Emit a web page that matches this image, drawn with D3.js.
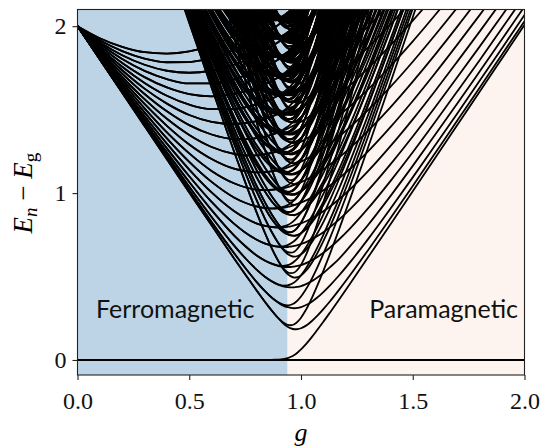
<!DOCTYPE html>
<html><head><meta charset="utf-8">
<script src="https://cdn.jsdelivr.net/npm/d3@7"></script>
<style>body{margin:0;background:#fff}svg{display:block}</style>
</head><body>
<svg id="chart" width="550" height="447"></svg>
<script>
// Transverse-field coupling values at which the single-particle levels are tabulated
const couplings = [0, 0.1, 0.2, 0.3, 0.4, 0.5, 0.6, 0.7, 0.75, 0.8, 0.84, 0.87, 0.9, 0.92, 0.94, 0.955, 0.97, 0.985, 1.0, 1.015, 1.03, 1.05, 1.07, 1.1, 1.13, 1.17, 1.22, 1.3, 1.4, 1.5, 1.6, 1.7, 1.8, 1.9, 2.0];

// Single-particle excitation energies, one array per mode (edge mode first)
const mode0 = [0.000, 0.000, 0.000, 0.000, 0.000, 0.000, 0.000, 0.000, 0.000, 0.000, 0.000, 0.001, 0.002, 0.005, 0.011, 0.019, 0.030, 0.045, 0.063, 0.084, 0.107, 0.140, 0.175, 0.229, 0.285, 0.361, 0.458, 0.615, 0.812, 1.011, 1.210, 1.409, 1.608, 1.808, 2.008];
const mode1 = [2.000, 1.800, 1.601, 1.402, 1.203, 1.004, 0.807, 0.610, 0.514, 0.419, 0.346, 0.294, 0.247, 0.220, 0.199, 0.189, 0.184, 0.185, 0.190, 0.200, 0.213, 0.235, 0.261, 0.305, 0.352, 0.420, 0.509, 0.658, 0.849, 1.043, 1.239, 1.436, 1.633, 1.832, 2.030];
const mode2 = [2.000, 1.802, 1.604, 1.407, 1.211, 1.017, 0.826, 0.641, 0.553, 0.470, 0.411, 0.372, 0.342, 0.326, 0.316, 0.312, 0.310, 0.312, 0.317, 0.325, 0.334, 0.351, 0.371, 0.407, 0.447, 0.506, 0.586, 0.724, 0.906, 1.094, 1.286, 1.479, 1.674, 1.870, 2.067];
const mode3 = [2.000, 1.804, 1.609, 1.416, 1.225, 1.038, 0.857, 0.687, 0.611, 0.543, 0.497, 0.470, 0.450, 0.441, 0.436, 0.435, 0.435, 0.438, 0.443, 0.450, 0.459, 0.474, 0.491, 0.521, 0.556, 0.606, 0.682, 0.809, 0.982, 1.163, 1.349, 1.538, 1.730, 1.923, 2.118];
const mode4 = [2.000, 1.807, 1.616, 1.428, 1.244, 1.066, 0.898, 0.747, 0.683, 0.628, 0.595, 0.576, 0.563, 0.558, 0.557, 0.557, 0.560, 0.564, 0.569, 0.576, 0.585, 0.599, 0.614, 0.642, 0.674, 0.722, 0.789, 0.908, 1.072, 1.245, 1.426, 1.611, 1.798, 1.989, 2.181];
const mode5 = [2.000, 1.811, 1.626, 1.444, 1.268, 1.101, 0.947, 0.817, 0.764, 0.722, 0.697, 0.685, 0.678, 0.676, 0.677, 0.680, 0.683, 0.688, 0.695, 0.702, 0.711, 0.724, 0.740, 0.766, 0.796, 0.841, 0.904, 1.016, 1.172, 1.339, 1.514, 1.695, 1.879, 2.066, 2.255];
const mode6 = [2.000, 1.816, 1.636, 1.462, 1.296, 1.141, 1.004, 0.893, 0.851, 0.819, 0.803, 0.796, 0.793, 0.795, 0.798, 0.801, 0.806, 0.812, 0.819, 0.827, 0.836, 0.850, 0.865, 0.891, 0.920, 0.963, 1.023, 1.131, 1.281, 1.442, 1.612, 1.789, 1.969, 2.153, 2.339];
const mode7 = [2.000, 1.822, 1.649, 1.484, 1.328, 1.187, 1.067, 0.974, 0.942, 0.920, 0.910, 0.907, 0.909, 0.912, 0.917, 0.922, 0.928, 0.935, 0.943, 0.952, 0.961, 0.975, 0.991, 1.017, 1.045, 1.088, 1.146, 1.250, 1.395, 1.552, 1.718, 1.891, 2.068, 2.249, 2.433];
const mode8 = [2.000, 1.828, 1.664, 1.508, 1.364, 1.238, 1.133, 1.059, 1.035, 1.021, 1.018, 1.019, 1.024, 1.029, 1.036, 1.042, 1.049, 1.057, 1.066, 1.075, 1.086, 1.100, 1.116, 1.142, 1.171, 1.213, 1.271, 1.373, 1.514, 1.668, 1.830, 1.999, 2.174, 2.352, 2.532];
const mode9 = [2.000, 1.836, 1.680, 1.534, 1.403, 1.291, 1.204, 1.146, 1.131, 1.124, 1.125, 1.130, 1.138, 1.145, 1.154, 1.161, 1.169, 1.178, 1.188, 1.198, 1.209, 1.224, 1.241, 1.268, 1.297, 1.339, 1.396, 1.497, 1.636, 1.787, 1.947, 2.113, 2.285, 2.461, 2.640];
const mode10 = [2.000, 1.844, 1.697, 1.563, 1.445, 1.348, 1.276, 1.235, 1.226, 1.226, 1.233, 1.241, 1.252, 1.261, 1.271, 1.279, 1.288, 1.298, 1.308, 1.319, 1.331, 1.347, 1.364, 1.392, 1.422, 1.464, 1.522, 1.622, 1.760, 1.909, 2.067, 2.231, 2.401, 2.575, 2.752];
const mode11 = [2.000, 1.852, 1.716, 1.594, 1.490, 1.407, 1.351, 1.324, 1.323, 1.329, 1.339, 1.350, 1.364, 1.375, 1.386, 1.396, 1.406, 1.416, 1.428, 1.439, 1.452, 1.469, 1.487, 1.515, 1.546, 1.589, 1.647, 1.748, 1.885, 2.033, 2.189, 2.352, 2.520, 2.693, 2.869];
const mode12 = [2.000, 1.862, 1.736, 1.626, 1.536, 1.468, 1.427, 1.414, 1.419, 1.431, 1.445, 1.459, 1.475, 1.487, 1.500, 1.511, 1.522, 1.533, 1.545, 1.558, 1.571, 1.589, 1.608, 1.637, 1.669, 1.713, 1.772, 1.873, 2.011, 2.158, 2.314, 2.475, 2.642, 2.814, 2.988];
const mode13 = [2.000, 1.872, 1.757, 1.660, 1.583, 1.530, 1.503, 1.504, 1.514, 1.531, 1.550, 1.566, 1.585, 1.599, 1.613, 1.625, 1.636, 1.649, 1.662, 1.675, 1.689, 1.708, 1.727, 1.758, 1.791, 1.836, 1.896, 1.998, 2.137, 2.284, 2.439, 2.600, 2.766, 2.937, 3.110];
const mode14 = [2.000, 1.882, 1.780, 1.695, 1.633, 1.593, 1.580, 1.593, 1.609, 1.631, 1.653, 1.672, 1.693, 1.708, 1.724, 1.737, 1.749, 1.763, 1.776, 1.790, 1.805, 1.825, 1.845, 1.877, 1.911, 1.957, 2.018, 2.122, 2.262, 2.410, 2.565, 2.726, 2.891, 3.061, 3.234];
const mode15 = [2.000, 1.893, 1.803, 1.732, 1.683, 1.657, 1.657, 1.682, 1.703, 1.730, 1.756, 1.777, 1.800, 1.816, 1.833, 1.847, 1.861, 1.875, 1.889, 1.904, 1.919, 1.940, 1.961, 1.995, 2.029, 2.077, 2.139, 2.245, 2.386, 2.535, 2.690, 2.851, 3.017, 3.186, 3.359];
const mode16 = [2.000, 1.904, 1.826, 1.769, 1.733, 1.721, 1.734, 1.769, 1.796, 1.827, 1.856, 1.880, 1.905, 1.923, 1.941, 1.955, 1.970, 1.985, 2.000, 2.016, 2.032, 2.053, 2.076, 2.110, 2.146, 2.195, 2.259, 2.366, 2.509, 2.659, 2.815, 2.977, 3.142, 3.312, 3.485];
const mode17 = [2.000, 1.916, 1.851, 1.806, 1.784, 1.785, 1.810, 1.856, 1.887, 1.923, 1.955, 1.981, 2.008, 2.027, 2.047, 2.062, 2.077, 2.093, 2.109, 2.125, 2.142, 2.165, 2.188, 2.224, 2.260, 2.311, 2.376, 2.486, 2.630, 2.782, 2.939, 3.101, 3.268, 3.438, 3.611];
const mode18 = [2.000, 1.928, 1.876, 1.844, 1.836, 1.849, 1.885, 1.941, 1.977, 2.017, 2.052, 2.080, 2.109, 2.129, 2.150, 2.166, 2.182, 2.199, 2.216, 2.233, 2.250, 2.274, 2.298, 2.335, 2.373, 2.425, 2.492, 2.604, 2.750, 2.903, 3.062, 3.225, 3.392, 3.562, 3.736];

// Axis settings, phase regions and labels
const gTicks = [0, 0.5, 1.0, 1.5, 2.0];
const gTickLabels = ["0.0", "0.5", "1.0", "1.5", "2.0"];
const eTicks = [0, 1, 2];
const eTickLabels = ["0", "1", "2"];
const gDomain = [0, 2];
const eDomain = [-0.09, 2.1];
const phaseEdges = [0, 0.94, 2];
const phaseNames = ["Ferromagnetic", "Paramagnetic"];
const phaseColors = ["#bcd4e6", "#fdf4ef"];

const modes = [mode0, mode1, mode2, mode3, mode4, mode5, mode6, mode7, mode8, mode9,
  mode10, mode11, mode12, mode13, mode14, mode15, mode16, mode17, mode18];

const W = 550, H = 447;
const margin = {left: 77.5, right: 25.5, top: 9.5, bottom: 72};
const svg = d3.select("#chart");
const x = d3.scaleLinear().domain(gDomain).range([margin.left, W - margin.right]);
const y = d3.scaleLinear().domain(eDomain).range([H - margin.bottom, margin.top]);

// Many-body levels: every set of occupied modes whose total energy enters the plotted range
const visibleTop = 2.15;
const emptyState = couplings.map(() => 0);
const levels = [emptyState];
(function occupy(start, cur) {
  for (let m = start; m < modes.length; m++) {
    const next = cur.map((v, i) => v + modes[m][i]);
    if (d3.min(next) >= visibleTop) break;
    levels.push(next);
    occupy(m + 1, next);
  }
})(0, emptyState);

// phase backgrounds
svg.append("g").selectAll("rect").data(phaseColors).join("rect")
  .attr("x", (c, i) => x(phaseEdges[i]))
  .attr("width", (c, i) => x(phaseEdges[i + 1]) - x(phaseEdges[i]))
  .attr("y", y(eDomain[1])).attr("height", y(eDomain[0]) - y(eDomain[1]))
  .attr("fill", c => c);

svg.append("clipPath").attr("id", "plotclip").append("rect")
  .attr("x", x(gDomain[0])).attr("y", y(eDomain[1]))
  .attr("width", x(gDomain[1]) - x(gDomain[0])).attr("height", y(eDomain[0]) - y(eDomain[1]));

const line = d3.line()
  .x((v, i) => x(couplings[i]))
  .y(v => y(v))
  .curve(d3.curveMonotoneX);
svg.append("g").attr("clip-path", "url(#plotclip)")
  .selectAll("path").data(levels).join("path")
  .attr("d", line).attr("fill", "none").attr("stroke", "#000").attr("stroke-width", 1.8);

// phase labels
svg.append("text").attr("x", 96).attr("y", 318).text(phaseNames[0])
  .attr("font-family", "Lato, sans-serif").attr("font-size", 25).attr("fill", "#111");
svg.append("text").attr("x", 518).attr("y", 318).attr("text-anchor", "end").text(phaseNames[1])
  .attr("font-family", "Lato, sans-serif").attr("font-size", 25).attr("fill", "#111");

// axes
const xAxis = d3.axisBottom(x).tickValues(gTicks).tickFormat((d, i) => gTickLabels[i]).tickSize(5).tickPadding(12);
const yAxis = d3.axisLeft(y).tickValues(eTicks).tickFormat((d, i) => eTickLabels[i]).tickSize(5).tickPadding(6);
const gx = svg.append("g").attr("transform", `translate(0,${y(eDomain[0])})`).call(xAxis);
const gy = svg.append("g").attr("transform", `translate(${x(gDomain[0])},0)`).call(yAxis);
[gx, gy].forEach(a => {
  a.select(".domain").remove();
  a.selectAll("line").attr("stroke", "#222").attr("stroke-width", 1.1);
  a.selectAll("text").attr("font-family", "'Liberation Serif', serif").attr("font-size", 24).attr("fill", "#111");
});
svg.append("rect").attr("x", x(gDomain[0])).attr("y", y(eDomain[1]))
  .attr("width", x(gDomain[1]) - x(gDomain[0])).attr("height", y(eDomain[0]) - y(eDomain[1]))
  .attr("fill", "none").attr("stroke", "#222").attr("stroke-width", 1.1);

// axis titles
svg.append("text").attr("x", x(1)).attr("y", 441).attr("text-anchor", "middle")
  .attr("font-family", "'Liberation Serif', serif").attr("font-style", "italic").attr("font-size", 26).text("g");
const yt = svg.append("text").attr("transform", `translate(32,${y(1)}) rotate(-90)`).attr("text-anchor", "middle")
  .attr("font-family", "'Liberation Serif', serif").attr("font-size", 27);
yt.append("tspan").attr("font-style", "italic").text("E");
yt.append("tspan").attr("font-style", "italic").attr("font-size", 19).attr("dy", 5).text("n");
yt.append("tspan").attr("dy", -5).text(" − ");
yt.append("tspan").attr("font-style", "italic").text("E");
yt.append("tspan").attr("font-size", 19).attr("dy", 5).text("g");
</script>
</body></html>
